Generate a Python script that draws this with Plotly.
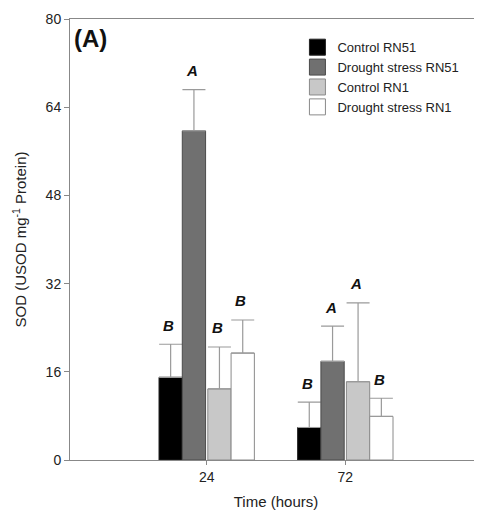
import plotly.graph_objects as go

# ---- data ----
time_labels = ["24", "72"]
series_names = ["Control RN51", "Drought stress RN51", "Control RN1", "Drought stress RN1"]
means = [
    [15.0, 5.9],    # Control RN51
    [59.7, 17.9],   # Drought stress RN51
    [12.9, 14.2],   # Control RN1
    [19.4, 7.9],    # Drought stress RN1
]
errors = [
    [6.0, 4.6],
    [7.5, 6.4],
    [7.6, 14.3],
    [6.0, 3.3],
]
letters = [
    ["B", "B"],
    ["A", "A"],
    ["B", "A"],
    ["B", "B"],
]
y_ticks = [0, 16, 32, 48, 64, 80]

# ---- styles ----
fills = ["#000000", "#707070", "#c8c8c8", "#ffffff"]
outlines = ["#222222", "#4a4a4a", "#8a8a8a", "#8a8a8a"]
offsets = [-0.344, -0.176, 0.008, 0.176]
bar_w = 0.168

xpos = list(range(len(time_labels)))

fig = go.Figure()
for i, name in enumerate(series_names):
    fig.add_trace(go.Bar(
        x=xpos, y=means[i], name=name, showlegend=False,
        width=bar_w, offset=offsets[i],
        marker=dict(color=fills[i], line=dict(color=outlines[i], width=1)),
        error_y=dict(type="data", array=errors[i], arrayminus=[0] * len(xpos),
                     symmetric=False, color="#9a9a9a", thickness=1.2, width=11.5),
    ))
    # legend entry
    fig.add_trace(go.Scatter(
        x=[None], y=[None], mode="markers", name=name,
        marker=dict(symbol="square", size=16, color=fills[i],
                    line=dict(color=outlines[i], width=1)),
    ))
    for j, xp in enumerate(xpos):
        fig.add_annotation(
            x=xp + offsets[i] + bar_w / 2, y=means[i][j] + errors[i][j],
            text=letters[i][j], showarrow=False, yanchor="middle",
            yshift=19, xshift=-2,
            font=dict(family="Liberation Sans, Arial", size=15, color="#111",
                      weight="bold", style="italic"),
        )

fig.add_annotation(
    xref="paper", yref="paper", x=0.0, y=1.0, xshift=2, yshift=-4,
    xanchor="left", yanchor="top", text="<b>(A)</b>", showarrow=False,
    font=dict(family="Liberation Sans, Arial", size=24, color="#111"),
)

# page body has an 8px margin, so the figure is sized/offset to compensate
fig.update_layout(
    width=474, height=502,
    margin=dict(l=62, r=0, t=11, b=50, autoexpand=False),
    paper_bgcolor="white", plot_bgcolor="white",
    font=dict(family="Liberation Sans, Arial", size=14, color="#222"),
    legend=dict(x=0.552, y=0.97, xanchor="left", yanchor="top",
                bgcolor="rgba(0,0,0,0)", font=dict(size=13, color="#222"),
                tracegroupgap=0),
    bargap=0.3,
)
fig.update_xaxes(
    range=[-0.986, 1.986], tickvals=xpos, ticktext=time_labels,
    ticks="outside", ticklen=4, tickcolor="#888", showline=True, linecolor="#888",
    linewidth=1, mirror=True, showgrid=False, zeroline=False, automargin=False,
    title=dict(text="Time (hours)", font=dict(size=15)),
)
fig.update_yaxes(
    range=[0, 80], tickvals=y_ticks, ticks="outside", ticklen=5, tickcolor="#888",
    showline=True, linecolor="#888", linewidth=1, showgrid=False, zeroline=False,
    automargin=False,
    title=dict(text="SOD (USOD mg<sup>-1</sup> Protein)", font=dict(size=15)),
)

fig.write_html(
    "out.html",
    config={"displayModeBar": False},
    post_script="document.documentElement.style.overflow='hidden';document.body.style.overflow='hidden';",
)
